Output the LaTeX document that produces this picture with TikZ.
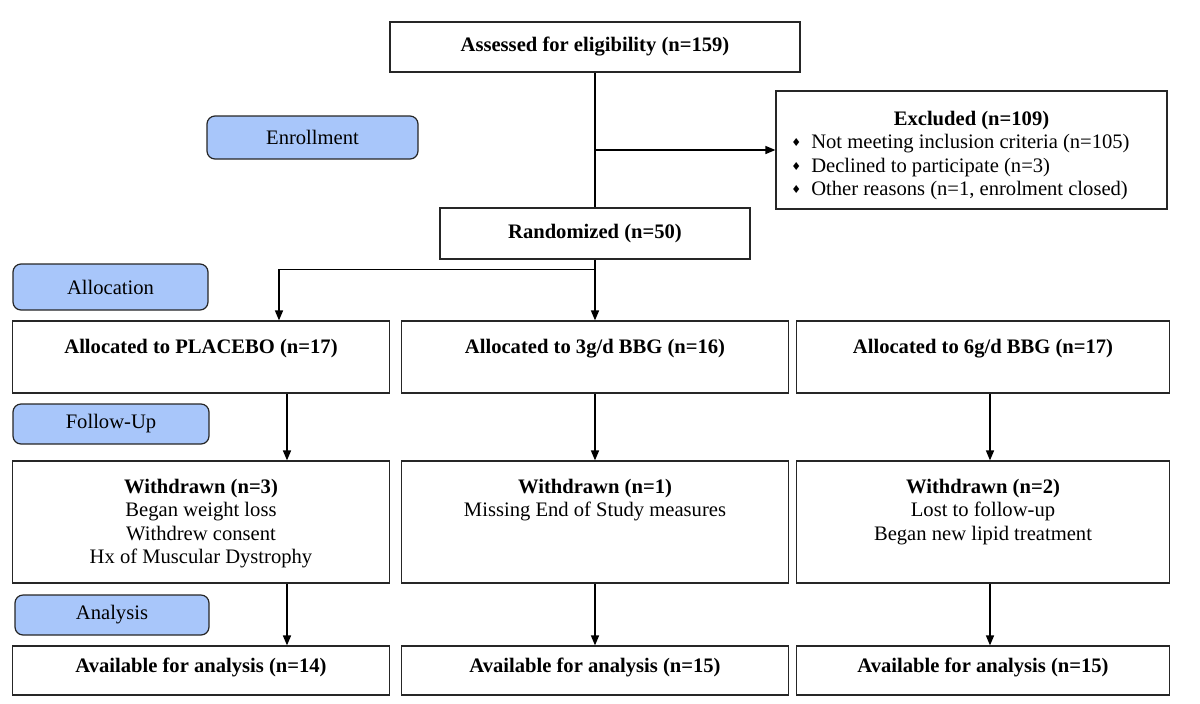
\documentclass[tikz,border=0pt]{standalone}
\usepackage{fontspec}
\setmainfont{Liberation Serif}
\newfontfamily\dejavu{DejaVu Sans}
\usetikzlibrary{positioning,arrows.meta}
\definecolor{phaseblue}{RGB}{168,198,250}
\newcommand{\dbul}{\raisebox{1pt}{\dejavu\fontsize{5.5}{5.5}\selectfont ♦}\hspace{5pt}}

\begin{document}
\begin{tikzpicture}[x=0.5pt,y=-0.5pt,on grid,
    every node/.style={font=\fontsize{10.3}{11.75}\selectfont},
    box/.style={draw=black!85,line width=0.6pt,inner sep=0pt},
    allocbox/.style={box,text height=16pt,text depth=20pt},
    wdbox/.style={box,text height=16pt,text depth=45pt},
    availbox/.style={box,text height=13pt,text depth=11.5pt},
    phase/.style={draw=black!85,line width=0.6pt,fill=phaseblue,rounded corners=4pt},
    link/.style={line width=0.75pt},
    arr/.style={link,-{Triangle[length=5pt,width=4pt]}}]
    \useasboundingbox (0,0) rectangle (1200,703);

    % enrollment
    \node[box,minimum width=205pt,minimum height=25pt] (assess) at (595,47) {\textbf{Assessed for eligibility (n=159)}};
    \node[box,minimum width=155pt,minimum height=25.5pt] (rand) [below=93.25pt of assess] {\textbf{Randomized (n=50)}};
    \node[box,minimum width=195.5pt,text height=17pt,text depth=42pt] (excl) at (971.5,150) {\begin{tabular}[t]{@{}l@{\hspace{11pt}}}
        \multicolumn{1}{@{}c@{}}{\textbf{Excluded (n=109)}}\\
        \dbul Not meeting inclusion criteria (n=105)\\
        \dbul Declined to participate (n=3)\\
        \dbul Other reasons (n=1, enrolment closed)
    \end{tabular}};

    % phase labels
    \node[phase,minimum width=105.5pt,minimum height=21.5pt] (enroll) at (312.5,137.5) {Enrollment};
    \node[phase,minimum width=97.5pt,minimum height=23pt] (allocl) at (110.5,287) {Allocation};
    \node[phase,minimum width=98pt,minimum height=20pt] (followl) at (111,424) {Follow-Up};
    \node[phase,minimum width=97pt,minimum height=20pt] (analysl) at (112,615) {Analysis};

    % allocation
    \node[allocbox,minimum width=193.5pt] (alloc2) [below=61.75pt of rand] {\textbf{Allocated to 3g/d BBG (n=16)}};
    \node[allocbox,minimum width=188.5pt] (alloc1) [left=197pt of alloc2] {\textbf{Allocated to PLACEBO (n=17)}};
    \node[allocbox,minimum width=186.5pt] (alloc3) [right=194pt of alloc2] {\textbf{Allocated to 6g/d BBG (n=17)}};

    % follow-up
    \node[wdbox,minimum width=188.5pt] (wd1) [below=82.5pt of alloc1] {\begin{tabular}[t]{@{}c@{}}
        \textbf{Withdrawn (n=3)}\\Began weight loss\\Withdrew consent\\Hx of Muscular Dystrophy
    \end{tabular}};
    \node[wdbox,minimum width=193.5pt] (wd2) [below=82.5pt of alloc2] {\begin{tabular}[t]{@{}c@{}}
        \textbf{Withdrawn (n=1)}\\Missing End of Study measures
    \end{tabular}};
    \node[wdbox,minimum width=186.5pt] (wd3) [below=82.5pt of alloc3] {\begin{tabular}[t]{@{}c@{}}
        \textbf{Withdrawn (n=2)}\\Lost to follow-up\\Began new lipid treatment
    \end{tabular}};

    % analysis
    \node[availbox,minimum width=188.5pt] (avail1) [below=74.25pt of wd1] {\textbf{Available for analysis (n=14)}};
    \node[availbox,minimum width=193.5pt] (avail2) [below=74.25pt of wd2] {\textbf{Available for analysis (n=15)}};
    \node[availbox,minimum width=186.5pt] (avail3) [below=74.25pt of wd3] {\textbf{Available for analysis (n=15)}};

    % connectors
    \draw[link] (assess) -- (rand);
    \coordinate (split) at (assess.south |- excl.west);
    \draw[arr] (split) -- (excl);
    \coordinate[below=5pt of rand.south] (fork);
    \draw[arr] (rand.south) -- (fork) -| ([xshift=39pt]alloc1.north);
    \draw[arr] (fork) -- (alloc2);
    \draw[arr] ([xshift=43pt]alloc1.south) -- ([xshift=43pt]wd1.north);
    \draw[arr] (alloc2) -- (wd2);
    \draw[arr] ([xshift=3.5pt]alloc3.south) -- ([xshift=3.5pt]wd3.north);
    \draw[arr] ([xshift=43pt]wd1.south) -- ([xshift=43pt]avail1.north);
    \draw[arr] (wd2) -- (avail2);
    \draw[arr] ([xshift=3.5pt]wd3.south) -- ([xshift=3.5pt]avail3.north);
\end{tikzpicture}
\end{document}
